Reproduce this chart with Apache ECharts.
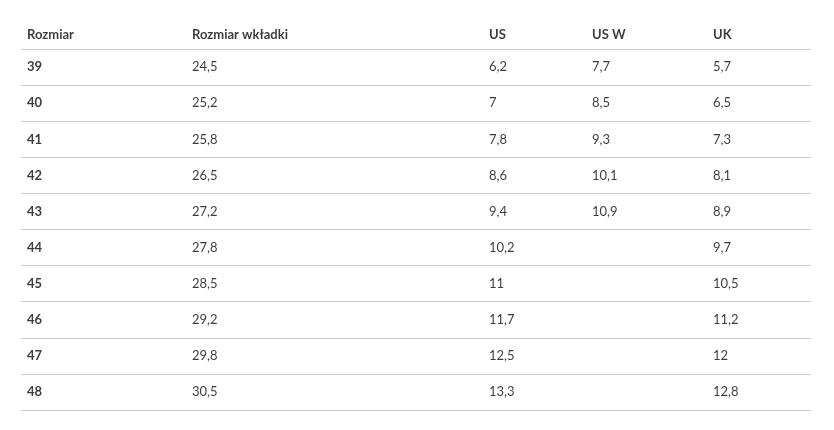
<!DOCTYPE html>
<html><head><meta charset="utf-8">
<script src="https://cdn.jsdelivr.net/npm/echarts@6/dist/echarts.min.js"></script>
<style>html,body{margin:0;padding:0;background:#fff}#c{width:834px;height:430px}</style>
</head><body><div id="c"></div>
<script>
// ---- data ----
const headers = ['Rozmiar', 'Rozmiar wkładki', 'US', 'US W', 'UK'];
const sizes = ['39', '40', '41', '42', '43', '44', '45', '46', '47', '48'];
const insole = [24.5, 25.2, 25.8, 26.5, 27.2, 27.8, 28.5, 29.2, 29.8, 30.5];
const us = [6.2, 7, 7.8, 8.6, 9.4, 10.2, 11, 11.7, 12.5, 13.3];
const usW = [7.7, 8.5, 9.3, 10.1, 10.9, null, null, null, null, null];
const uk = [5.7, 6.5, 7.3, 8.1, 8.9, 9.7, 10.5, 11.2, 12, 12.8];

// ---- layout ----
const columns = [sizes, insole, us, usW, uk];
const colLeft = [6, 171, 468, 571, 692];
const HEADER = '__header';
const rowCats = [HEADER].concat(sizes);
const fmt = v => String(v).replace('.', ',');
const FONT = 'Lato, "Noto Sans", sans-serif';
const TEXT = '#0a0a0a';

const series = [];
series.push({
  type: 'scatter', symbolSize: 0, silent: true,
  data: headers.map((h, i) => [colLeft[i], HEADER, h]),
  label: {
    show: true, position: 'right', distance: 0, offset: [0, 4],
    formatter: p => p.value[2],
    fontFamily: FONT, fontSize: 13, fontWeight: 'bold', color: TEXT
  }
});
columns.forEach((col, c) => {
  const data = [];
  col.forEach((v, r) => { if (v !== null && v !== undefined) data.push([colLeft[c], sizes[r], fmt(v)]); });
  series.push({
    type: 'scatter', symbolSize: 0, silent: true, data,
    label: {
      show: true, position: 'right', distance: 0,
      formatter: p => p.value[2],
      fontFamily: FONT, fontSize: 13, fontWeight: c === 0 ? 'bold' : 'normal', color: TEXT
    }
  });
});

const chart = echarts.init(document.getElementById('c'), null, { renderer: 'canvas' });
chart.setOption({
  animation: false,
  backgroundColor: '#ffffff',
  grid: { left: 21, right: 23, top: 13, bottom: 20, containLabel: false },
  xAxis: { type: 'value', min: 0, max: 790, show: false },
  yAxis: {
    type: 'category', data: rowCats, inverse: true,
    axisLine: { show: false }, axisTick: { show: false, interval: 0 },
    axisLabel: { show: false, interval: 0 },
    splitLine: { show: true, interval: 0, showMinLine: false, lineStyle: { color: '#cbcbcb', width: 1 } }
  },
  tooltip: { show: false },
  series
});
</script></body></html>
